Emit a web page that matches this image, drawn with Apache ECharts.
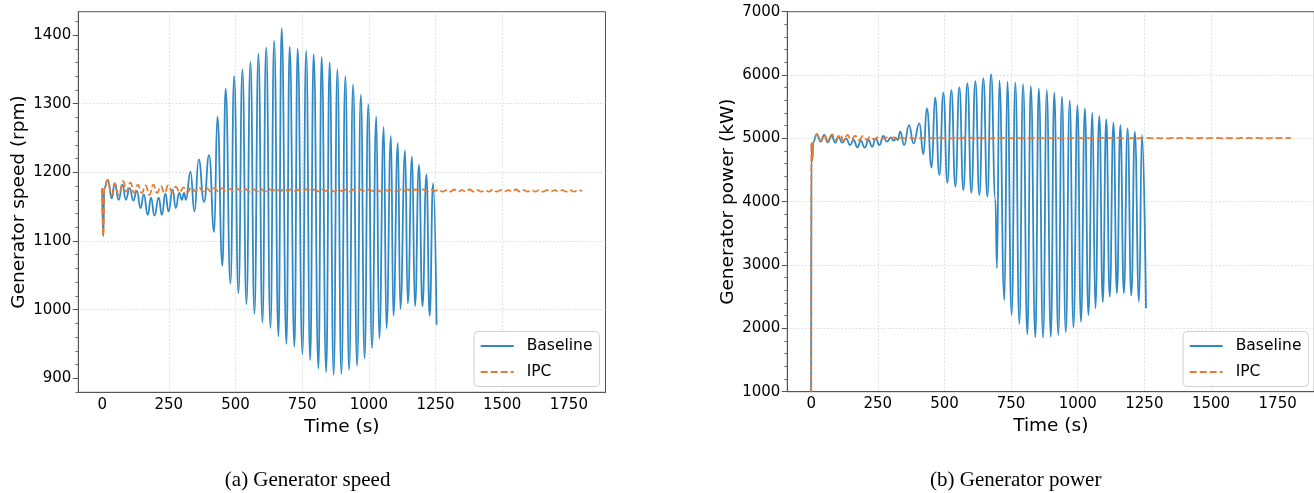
<!DOCTYPE html>
<html><head><meta charset="utf-8">
<script src="https://cdn.jsdelivr.net/npm/echarts@6/dist/echarts.min.js"></script>
<style>html,body{margin:0;padding:0;background:#fff}#c{width:1314px;height:493px}</style>
</head><body><div id="c"></div>
<script>
// ---- tick values ----
const timeTicks = [0, 250, 500, 750, 1000, 1250, 1500, 1750];
const speedTicks = [900, 1000, 1100, 1200, 1300, 1400];
const powerTicks = [1000, 2000, 3000, 4000, 5000, 6000, 7000];
const seriesNames = ['Baseline', 'IPC'];
const captions = ['(a) Generator speed', '(b) Generator power'];

// ---- (a) generator speed [time s, rpm] ----
const speedBaseline = [[0,1177],[4,1107],[8,1177],[21,1189],[36,1162],[47,1184],[62,1160],[76,1182],[89,1160],[103,1177],[117,1159],[130,1173],[144,1148],[156,1168],[171,1138],[183,1163],[196,1137],[212,1163],[224,1138],[237,1169],[249,1143],[264,1175],[276,1148],[289,1170],[299,1160],[307,1170],[314,1160],[331,1201],[346,1143],[362,1219],[382,1157],[401,1225],[420,1113],[432,1281],[451,1064],[463,1322],[481,1038],[495,1340],[511,1024],[526,1350],[541,1008],[556,1361],[571,994],[586,1373],[601,981],[615,1382],[631,973],[645,1392],[661,961],[673,1410],[691,950],[703,1383],[721,946],[733,1380],[751,935],[765,1377],[780,926],[793,1372],[811,914],[823,1368],[840,909],[853,1360],[868,905],[882,1350],[897,906],[912,1340],[926,912],[941,1328],[956,918],[970,1313],[984,929],[998,1299],[1012,944],[1028,1281],[1039,958],[1056,1266],[1066,973],[1083,1253],[1092,991],[1109,1243],[1118,1001],[1136,1232],[1146,1009],[1162,1223],[1173,1005],[1188,1211],[1201,1005],[1216,1197],[1228,991],[1241,1184],[1254,978]];

const speedIPC = [[0,1177],[4,1107],[8,1177],[21,1189],[35,1167],[47,1184],[62,1167],[79,1187],[91,1172],[106,1185],[120,1170],[134,1182],[148,1170],[163,1181],[177,1167],[192,1182],[206,1170],[220,1180],[234,1170],[248,1181],[262,1171],[276,1179],[291,1171],[305,1178],[320,1171],[334,1178],[349,1172],[363,1178],[378,1172],[392,1177],[407,1172],[421,1177],[436,1172],[450,1177],[465,1172],[479,1176],[494,1172],[508,1176],[523,1172],[537,1176],[552,1172],[566,1176],[581,1172],[595,1176],[610,1172],[624,1176],[639,1173],[653,1176],[668,1172],[682,1176],[697,1173],[711,1176],[726,1173],[740,1175],[755,1173],[769,1176],[784,1173],[798,1175],[813,1172],[827,1175],[842,1173],[856,1175],[871,1172],[885,1175],[900,1173],[914,1175],[929,1172],[943,1175],[958,1173],[972,1175],[987,1172],[1001,1175],[1016,1173],[1030,1175],[1045,1172],[1059,1175],[1074,1173],[1088,1175],[1103,1172],[1117,1175],[1132,1173],[1146,1175],[1161,1172],[1175,1175],[1190,1173],[1204,1175],[1219,1172],[1233,1175],[1248,1173],[1262,1175],[1277,1172],[1291,1174],[1306,1172],[1320,1175],[1335,1172],[1349,1174],[1364,1172],[1378,1175],[1393,1172],[1407,1174],[1422,1172],[1436,1174],[1451,1172],[1465,1175],[1480,1172],[1494,1174],[1509,1172],[1523,1174],[1538,1172],[1552,1175],[1567,1172],[1581,1174],[1596,1172],[1610,1174],[1625,1172],[1639,1174],[1654,1172],[1668,1174],[1683,1172],[1697,1174],[1712,1172],[1726,1174],[1741,1172],[1755,1174],[1770,1172],[1784,1174],[1800,1173]];

// ---- (b) generator power [time s, kW] ----
const powerBaseline = [[0,1000],[1,4930],[4,4650],[8,4940],[21,5068],[36,4947],[49,5053],[62,4937],[76,5037],[91,4932],[102,5026],[117,4932],[131,5000],[146,4895],[159,4974],[174,4858],[186,4963],[201,4853],[215,4974],[229,4868],[242,5000],[256,4895],[271,5037],[284,4947],[299,5016],[309,4963],[319,5000],[325,4974],[334,5105],[349,4895],[367,5210],[384,4921],[406,5237],[421,4750],[434,5474],[452,4537],[465,5647],[481,4421],[496,5721],[511,4300],[526,5763],[541,4237],[556,5805],[571,4184],[586,5868],[601,4142],[616,5905],[631,4105],[646,5947],[661,4079],[675,6010],[691,4040],[697,2950],[706,5910],[725,2447],[736,5895],[752,2211],[766,5879],[781,2068],[795,5858],[811,1905],[824,5826],[841,1858],[854,5789],[870,1853],[884,5763],[899,1868],[912,5721],[927,1895],[941,5658],[955,1937],[970,5595],[984,2016],[999,5521],[1012,2105],[1027,5474],[1040,2211],[1055,5405],[1066,2316],[1081,5353],[1094,2416],[1107,5300],[1120,2500],[1134,5247],[1147,2553],[1160,5210],[1173,2553],[1187,5158],[1201,2516],[1214,5105],[1230,2421],[1241,5053],[1256,2316]];

const powerIPC = [[0,1000],[1,4930],[4,4650],[8,4940],[21,5068],[36,4963],[49,5053],[62,4963],[79,5063],[92,4974],[109,5063],[121,4963],[136,5053],[150,4974],[165,5037],[180,4974],[194,5037],[209,4974],[221,5026],[237,4984],[252,5021],[266,4990],[281,5016],[296,4995],[310,5016],[325,4995],[339,5013],[354,4997],[368,5013],[383,4998],[397,5012],[412,4998],[426,5012],[441,4999],[455,5011],[470,4999],[484,5011],[499,5000],[513,5010],[528,4999],[542,5010],[557,5000],[571,5010],[586,5000],[600,5010],[615,5000],[629,5009],[644,5000],[658,5010],[673,5001],[687,5009],[702,5000],[716,5010],[731,5001],[745,5009],[760,5000],[774,5010],[789,5001],[803,5009],[818,5000],[832,5010],[847,5001],[861,5009],[876,5001],[890,5009],[905,5000],[919,5010],[934,5001],[948,5009],[963,5001],[977,5009],[992,5000],[1006,5010],[1021,5001],[1035,5009],[1050,5001],[1064,5009],[1079,5000],[1093,5009],[1108,5001],[1122,5009],[1137,5001],[1151,5009],[1166,5001],[1180,5009],[1195,5000],[1209,5009],[1224,5001],[1238,5009],[1253,5001],[1267,5009],[1282,5001],[1296,5008],[1311,5001],[1325,5009],[1340,5001],[1354,5008],[1369,5001],[1383,5009],[1398,5001],[1412,5008],[1427,5001],[1441,5008],[1456,5002],[1470,5008],[1485,5001],[1499,5008],[1514,5002],[1528,5008],[1543,5001],[1557,5008],[1572,5002],[1586,5008],[1601,5001],[1615,5008],[1630,5002],[1644,5008],[1659,5001],[1673,5008],[1688,5002],[1702,5008],[1717,5001],[1731,5008],[1746,5002],[1760,5008],[1775,5002],[1789,5008],[1800,5005]];

// ---- styling ----
const BLUE = '#3089c4';
const ORANGE = '#e27b33';
const FONT = 'DejaVu Sans';
const SPINE = '#555555';
const GRIDLINE = {color: '#d2d2d2', width: 0.8, type: [1.6, 2]};

function xAxisCfg(gi) {
  return {
    type: 'value', gridIndex: gi, min: -89.5, max: 1887.5,
    name: 'Time (s)', nameLocation: 'middle', nameGap: 23,
    nameTextStyle: {fontFamily: FONT, fontSize: 18.5, color: '#000'},
    axisLine: {show: true, onZero: false, lineStyle: {color: SPINE, width: 1}},
    axisTick: {show: false, customValues: timeTicks},
    axisLabel: {customValues: timeTicks, fontFamily: FONT, fontSize: 15, color: '#000', margin: 5,
      formatter: v => (timeTicks.indexOf(v) >= 0 ? String(v) : '')},
    splitLine: {show: true, showMinLine: false, showMaxLine: false, lineStyle: GRIDLINE},
    minorTick: {show: false}
  };
}
function yAxisCfg(gi, name, min, max, ticks) {
  return {
    type: 'value', gridIndex: gi, min: min, max: max, splitNumber: 5,
    name: name, nameLocation: 'middle', nameGap: 50,
    nameTextStyle: {fontFamily: FONT, fontSize: 18.5, color: '#000'},
    axisLine: {show: true, onZero: false, lineStyle: {color: SPINE, width: 1}},
    axisTick: {show: true, customValues: ticks, length: 5.5, lineStyle: {color: SPINE, width: 1}},
    axisLabel: {customValues: ticks, fontFamily: FONT, fontSize: 15, color: '#000', margin: 7,
      formatter: v => (ticks.indexOf(v) >= 0 ? String(v) : '')},
    splitLine: {show: true, showMinLine: false, showMaxLine: false, lineStyle: GRIDLINE},
    minorTick: {show: true, splitNumber: 5, length: 3, lineStyle: {color: SPINE, width: 0.8}},
    minorSplitLine: {show: false}
  };
}
function legendCfg(left) {
  return {
    show: true, data: seriesNames, orient: 'vertical', left: left, top: 331.5,
    itemWidth: 33, itemHeight: 14, itemGap: 10,
    padding: [6.5, 7, 6.5, 5.7],
    backgroundColor: 'rgba(255,255,255,0.85)', borderColor: '#d0d0d0', borderWidth: 1, borderRadius: 4,
    itemStyle: {color: 'rgba(0,0,0,0)', borderColor: 'rgba(0,0,0,0)', borderWidth: 0},
    textStyle: {fontFamily: FONT, fontSize: 15.5, color: '#000', padding: [0, 0, 0, 8]},
    selectedMode: false
  };
}
function lineSeries(name, data, gi, color, dashed) {
  return {
    type: 'line', name: name, data: data, xAxisIndex: gi, yAxisIndex: gi,
    showSymbol: false, symbol: 'none', smooth: 0.5, smoothMonotone: 'x',
    lineStyle: {color: color, width: 1.8, type: dashed ? [7, 3] : 'solid'},
    itemStyle: {color: color}, animation: false, z: dashed ? 3 : 2
  };
}

const chart = echarts.init(document.getElementById('c'), null, {renderer: 'canvas', width: 1314, height: 493});
chart.setOption({
  animation: false,
  backgroundColor: '#ffffff',
  textStyle: {fontFamily: FONT},
  grid: [
    {left: 78.3, top: 11.7, width: 527.2, height: 380.6, show: true, borderColor: SPINE, borderWidth: 1, backgroundColor: 'transparent', containLabel: false, outerBoundsMode: 'none'},
    {left: 787.3, top: 11.7, width: 527.0, height: 380.0, show: true, borderColor: SPINE, borderWidth: 1, backgroundColor: 'transparent', containLabel: false, outerBoundsMode: 'none'}
  ],
  xAxis: [xAxisCfg(0), xAxisCfg(1)],
  yAxis: [
    yAxisCfg(0, 'Generator speed (rpm)', 879.6, 1434, speedTicks),
    yAxisCfg(1, 'Generator power (kW)', 1000, 7000, powerTicks)
  ],
  legend: [legendCfg(474), legendCfg(1183)],
  series: [
    lineSeries(seriesNames[0], speedBaseline, 0, BLUE, false),
    lineSeries(seriesNames[1], speedIPC, 0, ORANGE, true),
    lineSeries(seriesNames[0], powerBaseline, 1, BLUE, false),
    lineSeries(seriesNames[1], powerIPC, 1, ORANGE, true)
  ],
  graphic: [
    {type: 'text', x: 307.6, y: 480.5, silent: true, style: {text: captions[0], fill: '#000', font: '21px "Liberation Serif"', align: 'center', verticalAlign: 'middle'}},
    {type: 'text', x: 1015.7, y: 480.5, silent: true, style: {text: captions[1], fill: '#000', font: '21px "Liberation Serif"', align: 'center', verticalAlign: 'middle'}}
  ]
});
</script></body></html>
